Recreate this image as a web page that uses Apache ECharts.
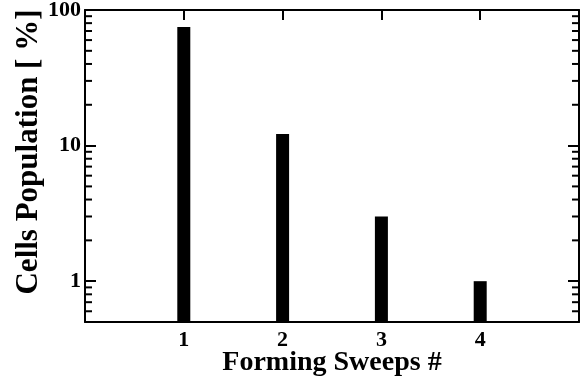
<!DOCTYPE html>
<html>
<head>
<meta charset="utf-8">
<script src="https://cdn.jsdelivr.net/npm/echarts@6/dist/echarts.min.js"></script>
<style>html,body{margin:0;padding:0;background:#fff}#c{width:585px;height:381px}</style>
</head>
<body>
<div id="c"></div>
<script>
const sweeps = [1, 2, 3, 4];
const population = [75, 12.2, 3.0, 1.0];
const xTickLabels = [1, 2, 3, 4];
const yTickLabels = [1, 10, 100];
const yMinorTicks = [0.6, 0.7, 0.8, 0.9, 2, 3, 4, 5, 6, 7, 8, 9, 20, 30, 40, 50, 60, 70, 80, 90];
const xRange = [0, 5];
const yRange = [0.5, 100];

const FONT = '"Liberation Serif", "Times New Roman", serif';
const lineStyle = { color: '#000', width: 2 };
const tickStyle = { color: '#000', width: 2 };

const chart = echarts.init(document.getElementById('c'), null, { renderer: 'canvas' });

function xAxisDef(pos, showLabel) {
  return {
    type: 'value', position: pos, min: xRange[0], max: xRange[1], interval: 1,
    name: showLabel ? 'Forming Sweeps #' : '',
    nameLocation: 'middle', nameGap: 27, nameMoveOverlap: false,
    nameTextStyle: { fontFamily: FONT, fontWeight: 'bold', fontSize: 28, color: '#000' },
    axisLine: { show: true, onZero: false, lineStyle: lineStyle },
    axisTick: { show: true, inside: true, length: 10, lineStyle: tickStyle, customValues: xTickLabels },
    axisLabel: { show: showLabel, customValues: xTickLabels, margin: 7, fontFamily: FONT, fontWeight: 'bold', fontSize: 22, color: '#000' },
    splitLine: { show: false }
  };
}
function yAxisDef(pos, showLabel) {
  return {
    type: 'log', logBase: 10, position: pos, min: yRange[0], max: yRange[1],
    name: showLabel ? 'Cells Population [ %]' : '',
    nameLocation: 'middle', nameGap: 41, nameRotate: 90, nameMoveOverlap: false,
    nameTextStyle: { fontFamily: FONT, fontWeight: 'bold', fontSize: 31, color: '#000', padding: [0, 0, 0, 28] },
    axisLine: { show: true, onZero: false, lineStyle: lineStyle },
    axisTick: { show: true, inside: true, length: 11, lineStyle: tickStyle, customValues: yTickLabels },
    axisLabel: { show: showLabel, customValues: yTickLabels, margin: 4, fontFamily: FONT, fontWeight: 'bold', fontSize: 22, color: '#000' },
    splitLine: { show: false }
  };
}

chart.setOption({
  animation: false,
  backgroundColor: '#fff',
  grid: { left: 85, right: 6, top: 10, bottom: 59, containLabel: false, outerBoundsMode: 'none' },
  xAxis: [xAxisDef('bottom', true), xAxisDef('top', false)],
  yAxis: [yAxisDef('left', true), yAxisDef('right', false)],
  series: [
    {
      type: 'custom', xAxisIndex: 0, yAxisIndex: 0, clip: false,
      data: yMinorTicks.map(v => [xRange[0], v]),
      renderItem: function (params, api) {
        const v = api.value(1);
        const l = api.coord([xRange[0], v]);
        const r = api.coord([xRange[1], v]);
        return {
          type: 'group', children: [
            { type: 'line', shape: { x1: l[0], y1: l[1], x2: l[0] + 7, y2: l[1] }, style: { stroke: '#000', lineWidth: 2 } },
            { type: 'line', shape: { x1: r[0] - 7, y1: r[1], x2: r[0], y2: r[1] }, style: { stroke: '#000', lineWidth: 2 } }
          ]
        };
      }
    },
    {
      type: 'custom', xAxisIndex: 0, yAxisIndex: 0,
      data: sweeps.map((s, i) => [s, population[i]]),
      renderItem: function (params, api) {
        const x = api.value(0), v = api.value(1);
        const top = api.coord([x, v]);
        const base = api.coord([x, yRange[0]]);
        const w = 13;
        return { type: 'rect', shape: { x: top[0] - w / 2, y: top[1], width: w, height: base[1] - top[1] }, style: { fill: '#000' } };
      }
    }
  ]
});
</script>
</body>
</html>
